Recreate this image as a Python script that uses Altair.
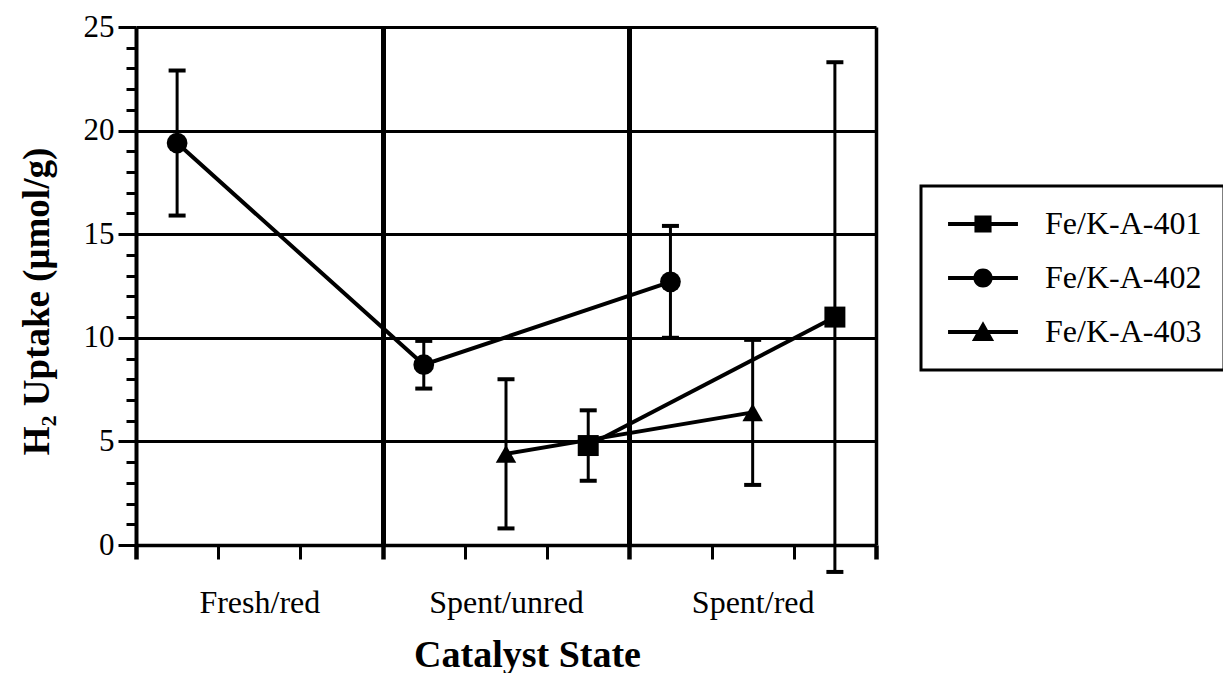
import math
import altair as alt
import pandas as pd

# ---------------- data ----------------
categories = ["Fresh/red", "Spent/unred", "Spent/red"]
series = ["Fe/K-A-401", "Fe/K-A-402", "Fe/K-A-403"]
slot = [2, 0, 1]  # sub-column of each series inside a category band
uptake_401 = [None, 4.8, 11.0]
uptake_402 = [19.4, 8.7, 12.7]
uptake_403 = [None, 4.4, 6.4]
err_401 = [None, 1.7, 12.3]
err_402 = [3.5, 1.15, 2.7]
err_403 = [None, 3.6, 3.5]
y_ticks = list(range(0, 26))

values = [uptake_401, uptake_402, uptake_403]
errors = [err_401, err_402, err_403]
nsub = len(series)
nx = len(categories) * nsub

rows = []
for i, s in enumerate(series):
    for j, c in enumerate(categories):
        v = values[i][j]
        if v is None:
            continue
        e = errors[i][j]
        rows.append({"series": s, "cat": c, "x": j * nsub + slot[i] + 0.5,
                     "y": v, "lo": v - e, "hi": v + e})
df = pd.DataFrame(rows)

centers = [j * nsub + nsub / 2 for j in range(len(categories))]
x_vals = sorted(set(range(0, nx + 1)) | set(centers))
label_expr = "".join(f"datum.value === {c} ? '{n}' : " for c, n in zip(centers, categories)) + "''"

FONT = "Liberation Serif"

# ---------------- legend symbols (line + marker) ----------------
def rect(x0, y0, x1, y1):
    return f"M{x0},{y0}H{x1}V{y1}H{x0}Z"

line_part = rect(-2.33, -0.13, 2.33, 0.13)
square_part = rect(-0.57, -0.57, 0.57, 0.57)
circ = [(0.64 * math.cos(2 * math.pi * k / 28), 0.64 * math.sin(2 * math.pi * k / 28)) for k in range(28)]
circle_part = "M" + "L".join(f"{px:.3f},{py:.3f}" for px, py in circ) + "Z"
tri_part = "M0,-0.72L0.74,0.6L-0.74,0.6Z"
legend_paths = [line_part + square_part, line_part + circle_part, line_part + tri_part]

# ---------------- axes ----------------
x_axis = alt.Axis(
    values=x_vals, title="Catalyst State", labelExpr=label_expr,
    labelFont=FONT, labelFontSize=32, labelColor="black", labelPadding=28,
    labelOverlap=False, labelFlush=False,
    tickColor="black", tickSize=14,
    tickWidth={"condition": {"test": "datum.value % 3 === 0", "value": 4.5}, "value": 3},
    tickOpacity={"condition": {"test": "datum.value % 1 === 0", "value": 1}, "value": 0},
    grid=True, gridColor="black",
    gridWidth={"condition": {"test": f"datum.value === {nx}", "value": 3.5}, "value": 5},
    gridOpacity={"condition": {"test": "datum.value % 3 === 0 && datum.value > 0", "value": 1}, "value": 0},
    domainColor="black", domainWidth=3.5,
    titleFont=FONT, titleFontSize=38, titleFontWeight="bold", titleColor="black",
    titleX=391, titleY=121, titleAlign="center", titleBaseline="alphabetic",
)
y_axis = alt.Axis(
    values=y_ticks, title="H₂ Uptake (μmol/g)",
    labelExpr="datum.value % 5 === 0 ? datum.label : ''",
    labelFont=FONT, labelFontSize=31, labelColor="black", labelPadding=4,
    labelOverlap=False, labelFlush=False,
    tickColor="black", tickWidth=3,
    tickSize={"condition": {"test": "datum.value % 5 === 0", "value": 18}, "value": 10},
    grid=True, gridColor="black", gridWidth=3,
    gridOpacity={"condition": {"test": "datum.value % 5 === 0", "value": 1}, "value": 0},
    domainColor="black", domainWidth=4,
    titleFont=FONT, titleFontSize=37, titleFontWeight="bold", titleColor="black",
    titleX=-88, titleY=274, titleAlign="center", titleBaseline="alphabetic", titleAngle=-90,
)

x_scale = alt.Scale(domain=[0, nx], nice=False, zero=False)
y_scale = alt.Scale(domain=[0, 25], nice=False, zero=False)


def X(field):
    return alt.X(f"{field}:Q", scale=x_scale, axis=x_axis)


def Y(field):
    return alt.Y(f"{field}:Q", scale=y_scale, axis=y_axis)


base = alt.Chart(df)

lines = base.mark_line(color="black", strokeWidth=4).encode(
    x=X("x"), y=Y("y"), detail="series:N", order="x:Q"
)
bars = base.mark_rule(color="black", strokeWidth=3).encode(
    x=X("x"), y=Y("lo"), y2="hi:Q"
)
cap_lo = base.mark_tick(orient="horizontal", color="black", size=17, thickness=4, opacity=1).encode(
    x=X("x"), y=Y("lo")
)
cap_hi = base.mark_tick(orient="horizontal", color="black", size=17, thickness=4, opacity=1).encode(
    x=X("x"), y=Y("hi")
)
points = base.mark_point(filled=True, color="black", opacity=1).encode(
    x=X("x"), y=Y("y"),
    shape=alt.Shape("series:N", scale=alt.Scale(domain=series, range=["square", "circle", "triangle-up"]), legend=None),
    size=alt.Size("series:N", scale=alt.Scale(domain=series, range=[440, 420, 470]), legend=None),
)
legend_layer = base.transform_filter("datum.y > 1000").mark_point(
    filled=True, color="black", opacity=1
).encode(
    x=X("x"), y=Y("y"),
    shape=alt.Shape(
        "series:N",
        scale=alt.Scale(domain=series, range=legend_paths),
        legend=alt.Legend(
            title=None,
            orient="none", legendX=785, legendY=159,
            symbolSize=900, symbolFillColor="black", symbolStrokeWidth=0,
            symbolStrokeColor="black", symbolOffset=24,
            labelFont=FONT, labelFontSize=32, labelColor="black", labelOffset=46,
            labelLimit=2000,
            rowPadding=22, padding=22, strokeColor="black",
        ),
    ),
)

chart = (
    alt.layer(lines, bars, cap_lo, cap_hi, points, legend_layer)
    .resolve_scale(shape="independent", size="independent")
    .properties(
        width=740, height=518,
        autosize=alt.AutoSizeParams(type="none"),
        padding={"left": 128, "top": 19, "right": 347, "bottom": 128},
        background="white",
    )
    .configure_view(strokeWidth=0)
    .configure_legend(strokeWidth=3)
)

chart.save("out.html", embed_options={"renderer": "svg", "actions": False})
